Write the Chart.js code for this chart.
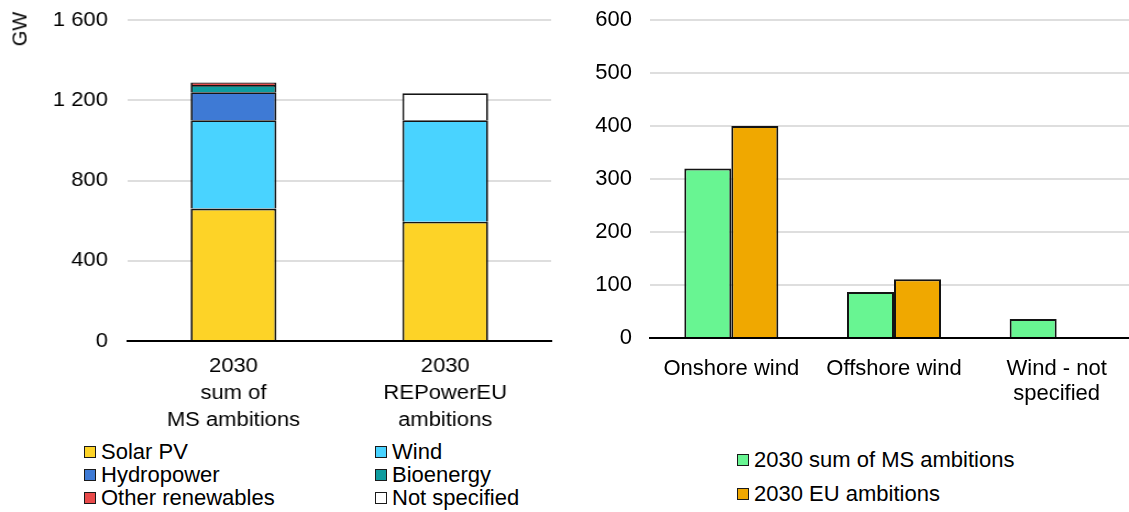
<!DOCTYPE html>
<html>
<head>
<meta charset="utf-8">
<script src="https://cdn.jsdelivr.net/npm/chart.js@4"></script>
<style>
  html, body { margin: 0; padding: 0; background: #fff; overflow: hidden; width: 1129px; height: 512px; }
  body { position: relative; font-family: "Liberation Sans", Arial, sans-serif; color: #000; }
  #leftWrap { position: absolute; left: 0; top: 0; width: 509px; height: 432px; transform: scaleX(1.1); transform-origin: 0 0; }
  #rightWrap { position: absolute; left: 560px; top: 0; width: 590px; height: 432px; }
  .gw { position: absolute; left: 20px; top: 29px; font-size: 20px; transform: translate(-50%, -50%) rotate(-90deg); white-space: nowrap; }
  .leg { position: absolute; white-space: nowrap; display: flex; align-items: center; font-size: 22px; }
  .leg .sw { display: inline-block; box-sizing: border-box; width: 12px; height: 12px; border: 1.5px solid #1a1a1a; margin-right: 5px; }
</style>
</head>
<body>
<div id="leftWrap"><canvas id="left"></canvas></div>
<div id="rightWrap"><canvas id="right"></canvas></div>
<div class="gw">GW</div>
<div id="legends"></div>
<script>
// ---- Left panel data (GW) ----
const leftCategories = [['2030', 'sum of', 'MS ambitions'], ['2030', 'REPowerEU', 'ambitions']];
const solarPV = [660, 595];
const wind = [440, 505];
const hydropower = [140, null];
const bioenergy = [36, null];
const otherRenewables = [12, null];
const notSpecified = [null, 135];
const leftTicks = [0, 400, 800, 1200, 1600];

// ---- Right panel data (GW) ----
const rightCategories = [['Onshore wind'], ['Offshore wind'], ['Wind - not', 'specified']];
const msAmbitions = [320, 87, 36];
const euAmbitions = [400, 111, null];
const rightTicks = [0, 100, 200, 300, 400, 500, 600];

const leftSeries = [
  { label: 'Solar PV', data: solarPV, color: '#fdd327' },
  { label: 'Wind', data: wind, color: '#49d3ff' },
  { label: 'Hydropower', data: hydropower, color: '#3e7ad5' },
  { label: 'Bioenergy', data: bioenergy, color: '#0e9c9f' },
  { label: 'Other renewables', data: otherRenewables, color: '#e84a4a' },
  { label: 'Not specified', data: notSpecified, color: '#ffffff' }
];
const rightSeries = [
  { label: '2030 sum of MS ambitions', data: msAmbitions, color: '#68f592' },
  { label: '2030 EU ambitions', data: euAmbitions, color: '#f0a800' }
];

const fmt = v => String(v).replace(/\B(?=(\d{3})+(?!\d))/g, ' ');
const FONT = '"Liberation Sans", Arial, sans-serif';
const GRID = '#dedede';
const EDGE = '#141414';

new Chart(document.getElementById('left'), {
  type: 'bar',
  data: {
    labels: leftCategories,
    datasets: leftSeries.map(s => ({
      label: s.label, data: s.data, backgroundColor: s.color,
      borderColor: EDGE, borderWidth: 1.8,
      barPercentage: 0.405, categoryPercentage: 1
    }))
  },
  options: {
    responsive: true, maintainAspectRatio: false, animation: false,
    layout: { padding: { left: 0, right: 8, top: 20, bottom: 0 } },
    plugins: { legend: { display: false }, tooltip: { enabled: false } },
    scales: {
      x: {
        stacked: true,
        grid: { display: false },
        border: { display: true, color: '#000', width: 2 },
        ticks: { color: '#000', padding: 4, font: { family: FONT, size: 20, lineHeight: 1.35 }, maxRotation: 0 },
        afterFit: s => { s.height = 91; }
      },
      y: {
        stacked: true, min: 0, max: 1600,
        afterBuildTicks: s => { s.ticks = leftTicks.map(v => ({ value: v })); },
        grid: { color: c => (c.tick && c.tick.value === 0) ? 'rgba(0,0,0,0)' : GRID, lineWidth: 2, drawTicks: false },
        border: { display: false },
        ticks: { color: '#000', padding: 18, font: { family: FONT, size: 20 }, callback: v => fmt(v) },
        afterFit: s => { s.width = 116; s.paddingTop = 0; s.paddingBottom = 0; }
      }
    }
  }
});

new Chart(document.getElementById('right'), {
  type: 'bar',
  data: {
    labels: rightCategories,
    datasets: rightSeries.map(s => ({
      label: s.label, data: s.data, backgroundColor: s.color,
      borderColor: EDGE, borderWidth: 2,
      barPercentage: 1, categoryPercentage: 0.578
    }))
  },
  options: {
    responsive: true, maintainAspectRatio: false, animation: false,
    layout: { padding: { left: 0, right: 12, top: 20, bottom: 0 } },
    plugins: { legend: { display: false }, tooltip: { enabled: false } },
    scales: {
      x: {
        grid: { display: false },
        border: { display: true, color: '#000', width: 2 },
        ticks: { color: '#000', padding: 10, font: { family: FONT, size: 22, lineHeight: 1.15 }, maxRotation: 0 },
        afterFit: s => { s.height = 94; }
      },
      y: {
        min: 0, max: 600,
        afterBuildTicks: s => { s.ticks = rightTicks.map(v => ({ value: v })); },
        grid: { color: c => (c.tick && c.tick.value === 0) ? 'rgba(0,0,0,0)' : GRID, lineWidth: 2, drawTicks: false },
        border: { display: false },
        ticks: { color: '#000', padding: 18, font: { family: FONT, size: 22 }, callback: v => fmt(v) },
        afterFit: s => { s.width = 90; s.paddingTop = 0; s.paddingBottom = 0; }
      }
    }
  }
});

// ---- HTML legends ----
const legHost = document.getElementById('legends');
const leftLegPos = [
  [84, 452], [375, 452],
  [84, 475], [375, 475],
  [84, 498], [375, 498]
];
leftSeries.forEach((s, i) => {
  const d = document.createElement('div');
  d.className = 'leg';
  d.style.left = leftLegPos[i][0] + 'px';
  d.style.top = (leftLegPos[i][1] - 13) + 'px';
  d.style.height = '26px';
  d.innerHTML = '<span class="sw" style="background:' + s.color + '"></span><span>' + s.label + '</span>';
  legHost.appendChild(d);
});
const rightLegPos = [[737, 460], [737, 494]];
rightSeries.forEach((s, i) => {
  const d = document.createElement('div');
  d.className = 'leg';
  d.style.left = rightLegPos[i][0] + 'px';
  d.style.top = (rightLegPos[i][1] - 13) + 'px';
  d.style.height = '26px';
  d.innerHTML = '<span class="sw" style="background:' + s.color + '"></span><span>' + s.label + '</span>';
  legHost.appendChild(d);
});
</script>
</body>
</html>
